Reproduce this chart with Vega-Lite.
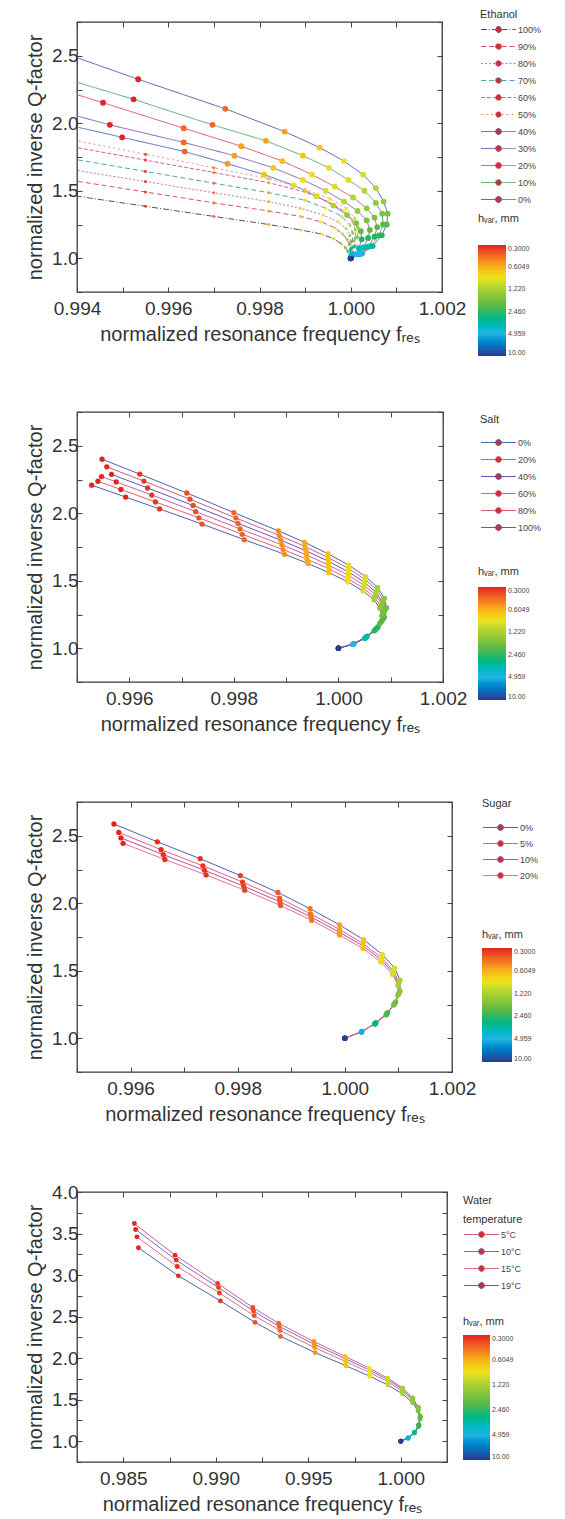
{
"$schema":"https://vega.github.io/schema/vega-lite/v6.json",
"padding":{"left":24,"top":8,"right":5,"bottom":5},
"spacing":120,
"bounds":"flush",
"resolve":{"scale":{"stroke":"independent","strokeDash":"independent","fill":"independent"}},
"config":{"font":"Liberation Sans","view":{"stroke":"#3a3a3a","strokeWidth":1.3},
"axis":{"domain":false,"grid":false,"tickSize":-5,"tickColor":"#444","labelFontSize":19,"labelColor":"#333","labelFlush":false,"labelPadding":4,"titleFontSize":20,"titleFontWeight":"normal","titleColor":"#333","titlePadding":6,"labelOverlap":false},
"axisX":{"labelPadding":12},
"legend":{"titleFontWeight":"normal","titleFontSize":11,"titleColor":"#333","labelFontSize":9,"labelColor":"#444"}},
"datasets":{
"ethanol":[
{"s":"0%","x":0.9935,"y":2.545,"h":0.25},{"s":"0%","x":0.99534,"y":2.326,"h":0.3},{"s":"0%","x":0.99725,"y":2.107,"h":0.42},{"s":"0%","x":0.99855,"y":1.938,"h":0.55},{"s":"0%","x":0.99932,"y":1.82,"h":0.68},{"s":"0%","x":0.99985,"y":1.72,"h":0.8},{"s":"0%","x":1.00027,"y":1.62,"h":0.95},{"s":"0%","x":1.00055,"y":1.52,"h":1.1},{"s":"0%","x":1.00072,"y":1.42,"h":1.3},{"s":"0%","x":1.00081,"y":1.33,"h":1.6},{"s":"0%","x":1.00079,"y":1.25,"h":2},{"s":"0%","x":1.00068,"y":1.17,"h":2.6},{"s":"0%","x":1.00048,"y":1.09,"h":3.5},{"s":"0%","x":1.00025,"y":1.035,"h":5},{"s":"0%","x":1,"y":1,"h":10},
{"s":"10%","x":0.9935,"y":2.355,"h":0.25},{"s":"10%","x":0.99524,"y":2.177,"h":0.3},{"s":"10%","x":0.99697,"y":1.988,"h":0.42},{"s":"10%","x":0.99814,"y":1.87,"h":0.55},{"s":"10%","x":0.99895,"y":1.76,"h":0.68},{"s":"10%","x":0.99952,"y":1.67,"h":0.8},{"s":"10%","x":0.99995,"y":1.58,"h":0.95},{"s":"10%","x":1.0003,"y":1.5,"h":1.1},{"s":"10%","x":1.00055,"y":1.41,"h":1.3},{"s":"10%","x":1.00069,"y":1.33,"h":1.6},{"s":"10%","x":1.00071,"y":1.25,"h":2},{"s":"10%","x":1.00062,"y":1.17,"h":2.6},{"s":"10%","x":1.00044,"y":1.09,"h":3.5},{"s":"10%","x":1.00023,"y":1.035,"h":5},{"s":"10%","x":1,"y":1,"h":10},
{"s":"20%","x":0.9935,"y":2.264,"h":0.25},{"s":"20%","x":0.99457,"y":2.152,"h":0.3},{"s":"20%","x":0.99634,"y":1.963,"h":0.42},{"s":"20%","x":0.9976,"y":1.83,"h":0.55},{"s":"20%","x":0.9985,"y":1.72,"h":0.68},{"s":"20%","x":0.99915,"y":1.62,"h":0.8},{"s":"20%","x":0.99965,"y":1.53,"h":0.95},{"s":"20%","x":1.00005,"y":1.45,"h":1.1},{"s":"20%","x":1.00035,"y":1.37,"h":1.3},{"s":"20%","x":1.00052,"y":1.3,"h":1.6},{"s":"20%","x":1.00058,"y":1.23,"h":2},{"s":"20%","x":1.00052,"y":1.16,"h":2.6},{"s":"20%","x":1.00038,"y":1.085,"h":3.5},{"s":"20%","x":1.0002,"y":1.03,"h":5},{"s":"20%","x":1,"y":1,"h":10},
{"s":"30%","x":0.9935,"y":2.1,"h":0.25},{"s":"30%","x":0.99472,"y":1.988,"h":0.3},{"s":"30%","x":0.99634,"y":1.858,"h":0.42},{"s":"30%","x":0.99745,"y":1.76,"h":0.55},{"s":"30%","x":0.9983,"y":1.67,"h":0.68},{"s":"30%","x":0.99895,"y":1.58,"h":0.8},{"s":"30%","x":0.99945,"y":1.5,"h":0.95},{"s":"30%","x":0.99985,"y":1.42,"h":1.1},{"s":"30%","x":1.00015,"y":1.35,"h":1.3},{"s":"30%","x":1.00035,"y":1.28,"h":1.6},{"s":"30%","x":1.00042,"y":1.21,"h":2},{"s":"30%","x":1.00038,"y":1.15,"h":2.6},{"s":"30%","x":1.00028,"y":1.08,"h":3.5},{"s":"30%","x":1.00014,"y":1.03,"h":5},{"s":"30%","x":1,"y":1,"h":10},
{"s":"40%","x":0.9935,"y":2.01,"h":0.25},{"s":"40%","x":0.99499,"y":1.896,"h":0.3},{"s":"40%","x":0.99636,"y":1.79,"h":0.42},{"s":"40%","x":0.9973,"y":1.7,"h":0.55},{"s":"40%","x":0.9981,"y":1.62,"h":0.68},{"s":"40%","x":0.99875,"y":1.54,"h":0.8},{"s":"40%","x":0.99925,"y":1.46,"h":0.95},{"s":"40%","x":0.99962,"y":1.39,"h":1.1},{"s":"40%","x":0.99992,"y":1.32,"h":1.3},{"s":"40%","x":1.00012,"y":1.26,"h":1.6},{"s":"40%","x":1.00022,"y":1.2,"h":2},{"s":"40%","x":1.00024,"y":1.14,"h":2.6},{"s":"40%","x":1.00018,"y":1.075,"h":3.5},{"s":"40%","x":1.0001,"y":1.03,"h":5},{"s":"40%","x":1,"y":1,"h":10},
{"s":"50%","x":0.9935,"y":1.903,"h":0.25},{"s":"50%","x":0.9955,"y":1.77,"h":0.3},{"s":"50%","x":0.997,"y":1.67,"h":0.42},{"s":"50%","x":0.9982,"y":1.59,"h":0.55},{"s":"50%","x":0.999,"y":1.51,"h":0.68},{"s":"50%","x":0.99955,"y":1.44,"h":0.8},{"s":"50%","x":0.9999,"y":1.37,"h":0.95},{"s":"50%","x":1.00008,"y":1.3,"h":1.1},{"s":"50%","x":1.00015,"y":1.23,"h":1.4},{"s":"50%","x":1.00015,"y":1.16,"h":2},{"s":"50%","x":1.0001,"y":1.09,"h":3},{"s":"50%","x":1.00005,"y":1.04,"h":4.5},{"s":"50%","x":1,"y":1,"h":10},
{"s":"60%","x":0.9935,"y":1.851,"h":0.25},{"s":"60%","x":0.9955,"y":1.727,"h":0.3},{"s":"60%","x":0.997,"y":1.635,"h":0.42},{"s":"60%","x":0.9982,"y":1.56,"h":0.55},{"s":"60%","x":0.999,"y":1.49,"h":0.68},{"s":"60%","x":0.9995,"y":1.42,"h":0.8},{"s":"60%","x":0.99985,"y":1.35,"h":0.95},{"s":"60%","x":1.00003,"y":1.28,"h":1.1},{"s":"60%","x":1.0001,"y":1.21,"h":1.4},{"s":"60%","x":1.0001,"y":1.15,"h":2},{"s":"60%","x":1.00006,"y":1.085,"h":3},{"s":"60%","x":1.00003,"y":1.04,"h":4.5},{"s":"60%","x":1,"y":1,"h":10},
{"s":"70%","x":0.9935,"y":1.759,"h":0.25},{"s":"70%","x":0.9955,"y":1.643,"h":0.3},{"s":"70%","x":0.997,"y":1.556,"h":0.42},{"s":"70%","x":0.9982,"y":1.486,"h":0.55},{"s":"70%","x":0.999,"y":1.43,"h":0.68},{"s":"70%","x":0.99945,"y":1.37,"h":0.8},{"s":"70%","x":0.9998,"y":1.31,"h":0.95},{"s":"70%","x":0.99998,"y":1.25,"h":1.1},{"s":"70%","x":1.00004,"y":1.19,"h":1.4},{"s":"70%","x":1.00004,"y":1.13,"h":2},{"s":"70%","x":1.00002,"y":1.075,"h":3},{"s":"70%","x":1,"y":1.035,"h":4.5},{"s":"70%","x":1,"y":1,"h":10},
{"s":"80%","x":0.9935,"y":1.678,"h":0.25},{"s":"80%","x":0.9955,"y":1.568,"h":0.3},{"s":"80%","x":0.997,"y":1.485,"h":0.42},{"s":"80%","x":0.9982,"y":1.42,"h":0.55},{"s":"80%","x":0.9989,"y":1.37,"h":0.68},{"s":"80%","x":0.9994,"y":1.32,"h":0.8},{"s":"80%","x":0.99972,"y":1.27,"h":0.95},{"s":"80%","x":0.9999,"y":1.22,"h":1.1},{"s":"80%","x":0.99998,"y":1.17,"h":1.4},{"s":"80%","x":1,"y":1.12,"h":2},{"s":"80%","x":1,"y":1.07,"h":3},{"s":"80%","x":1,"y":1.03,"h":4.5},{"s":"80%","x":1,"y":1,"h":10},
{"s":"90%","x":0.9935,"y":1.597,"h":0.25},{"s":"90%","x":0.9955,"y":1.491,"h":0.3},{"s":"90%","x":0.997,"y":1.41,"h":0.42},{"s":"90%","x":0.9982,"y":1.35,"h":0.55},{"s":"90%","x":0.9989,"y":1.31,"h":0.68},{"s":"90%","x":0.99935,"y":1.27,"h":0.8},{"s":"90%","x":0.99965,"y":1.225,"h":0.95},{"s":"90%","x":0.99982,"y":1.18,"h":1.1},{"s":"90%","x":0.99992,"y":1.14,"h":1.4},{"s":"90%","x":0.99997,"y":1.1,"h":2},{"s":"90%","x":0.99999,"y":1.06,"h":3},{"s":"90%","x":1,"y":1.03,"h":4.5},{"s":"90%","x":1,"y":1,"h":10},
{"s":"100%","x":0.9935,"y":1.485,"h":0.25},{"s":"100%","x":0.9955,"y":1.385,"h":0.3},{"s":"100%","x":0.997,"y":1.31,"h":0.42},{"s":"100%","x":0.9982,"y":1.25,"h":0.55},{"s":"100%","x":0.9989,"y":1.21,"h":0.68},{"s":"100%","x":0.99935,"y":1.18,"h":0.8},{"s":"100%","x":0.99962,"y":1.145,"h":0.95},{"s":"100%","x":0.99978,"y":1.11,"h":1.2},{"s":"100%","x":0.99988,"y":1.08,"h":1.6},{"s":"100%","x":0.99994,"y":1.05,"h":2.4},{"s":"100%","x":0.99998,"y":1.025,"h":4},{"s":"100%","x":1,"y":1,"h":10}
],
"salt":[
{"s":"0%","x":0.99548,"y":2.4,"h":0.3},{"s":"0%","x":0.9962,"y":2.29,"h":0.32},{"s":"0%","x":0.9971,"y":2.15,"h":0.36},{"s":"0%","x":0.998,"y":2.005,"h":0.41},{"s":"0%","x":0.99885,"y":1.87,"h":0.5},{"s":"0%","x":0.99935,"y":1.785,"h":0.58},{"s":"0%","x":0.9998,"y":1.7,"h":0.68},{"s":"0%","x":1.0002,"y":1.615,"h":0.8},{"s":"0%","x":1.00052,"y":1.53,"h":0.95},{"s":"0%","x":1.00075,"y":1.45,"h":1.15},{"s":"0%","x":1.00088,"y":1.37,"h":1.4},{"s":"0%","x":1.00092,"y":1.3,"h":1.7},{"s":"0%","x":1.00088,"y":1.23,"h":2.1},{"s":"0%","x":1.00076,"y":1.16,"h":2.6},{"s":"0%","x":1.00055,"y":1.09,"h":3.4},{"s":"0%","x":1.0003,"y":1.035,"h":5},{"s":"0%","x":1,"y":1,"h":10},
{"s":"20%","x":0.99557,"y":2.344,"h":0.3},{"s":"20%","x":0.99628,"y":2.238,"h":0.32},{"s":"20%","x":0.99716,"y":2.104,"h":0.36},{"s":"20%","x":0.99804,"y":1.965,"h":0.41},{"s":"20%","x":0.99887,"y":1.835,"h":0.5},{"s":"20%","x":0.99936,"y":1.754,"h":0.58},{"s":"20%","x":0.9998,"y":1.672,"h":0.68},{"s":"20%","x":1.0002,"y":1.59,"h":0.8},{"s":"20%","x":1.00051,"y":1.509,"h":0.95},{"s":"20%","x":1.00074,"y":1.432,"h":1.15},{"s":"20%","x":1.00086,"y":1.355,"h":1.4},{"s":"20%","x":1.0009,"y":1.288,"h":1.7},{"s":"20%","x":1.00086,"y":1.221,"h":2.1},{"s":"20%","x":1.00075,"y":1.154,"h":2.6},{"s":"20%","x":1.00054,"y":1.086,"h":3.4},{"s":"20%","x":1.00029,"y":1.034,"h":5},{"s":"20%","x":1,"y":1,"h":10},
{"s":"40%","x":0.99566,"y":2.288,"h":0.3},{"s":"40%","x":0.99635,"y":2.187,"h":0.32},{"s":"40%","x":0.99722,"y":2.058,"h":0.36},{"s":"40%","x":0.99808,"y":1.925,"h":0.41},{"s":"40%","x":0.9989,"y":1.8,"h":0.5},{"s":"40%","x":0.99938,"y":1.722,"h":0.58},{"s":"40%","x":0.99981,"y":1.644,"h":0.68},{"s":"40%","x":1.00019,"y":1.566,"h":0.8},{"s":"40%","x":1.0005,"y":1.488,"h":0.95},{"s":"40%","x":1.00072,"y":1.414,"h":1.15},{"s":"40%","x":1.00084,"y":1.34,"h":1.4},{"s":"40%","x":1.00088,"y":1.276,"h":1.7},{"s":"40%","x":1.00084,"y":1.212,"h":2.1},{"s":"40%","x":1.00073,"y":1.147,"h":2.6},{"s":"40%","x":1.00053,"y":1.083,"h":3.4},{"s":"40%","x":1.00029,"y":1.032,"h":5},{"s":"40%","x":1,"y":1,"h":10},
{"s":"60%","x":0.99547,"y":2.272,"h":0.28},{"s":"60%","x":0.99575,"y":2.232,"h":0.3},{"s":"60%","x":0.99643,"y":2.135,"h":0.32},{"s":"60%","x":0.99727,"y":2.012,"h":0.36},{"s":"60%","x":0.99812,"y":1.884,"h":0.41},{"s":"60%","x":0.99892,"y":1.766,"h":0.5},{"s":"60%","x":0.99939,"y":1.691,"h":0.58},{"s":"60%","x":0.99981,"y":1.616,"h":0.68},{"s":"60%","x":1.00019,"y":1.541,"h":0.8},{"s":"60%","x":1.00049,"y":1.466,"h":0.95},{"s":"60%","x":1.00071,"y":1.396,"h":1.15},{"s":"60%","x":1.00083,"y":1.326,"h":1.4},{"s":"60%","x":1.00087,"y":1.264,"h":1.7},{"s":"60%","x":1.00083,"y":1.202,"h":2.1},{"s":"60%","x":1.00071,"y":1.141,"h":2.6},{"s":"60%","x":1.00052,"y":1.079,"h":3.4},{"s":"60%","x":1.00028,"y":1.031,"h":5},{"s":"60%","x":1,"y":1,"h":10},
{"s":"80%","x":0.9954,"y":2.237,"h":0.28},{"s":"80%","x":0.99584,"y":2.176,"h":0.3},{"s":"80%","x":0.9965,"y":2.084,"h":0.32},{"s":"80%","x":0.99733,"y":1.966,"h":0.36},{"s":"80%","x":0.99816,"y":1.844,"h":0.41},{"s":"80%","x":0.99894,"y":1.731,"h":0.5},{"s":"80%","x":0.9994,"y":1.659,"h":0.58},{"s":"80%","x":0.99982,"y":1.588,"h":0.68},{"s":"80%","x":1.00018,"y":1.517,"h":0.8},{"s":"80%","x":1.00048,"y":1.445,"h":0.95},{"s":"80%","x":1.00069,"y":1.378,"h":1.15},{"s":"80%","x":1.00081,"y":1.311,"h":1.4},{"s":"80%","x":1.00085,"y":1.252,"h":1.7},{"s":"80%","x":1.00081,"y":1.193,"h":2.1},{"s":"80%","x":1.0007,"y":1.134,"h":2.6},{"s":"80%","x":1.00051,"y":1.076,"h":3.4},{"s":"80%","x":1.00028,"y":1.029,"h":5},{"s":"80%","x":1,"y":1,"h":10},
{"s":"100%","x":0.99528,"y":2.208,"h":0.28},{"s":"100%","x":0.99593,"y":2.12,"h":0.3},{"s":"100%","x":0.99658,"y":2.032,"h":0.32},{"s":"100%","x":0.99739,"y":1.92,"h":0.36},{"s":"100%","x":0.9982,"y":1.804,"h":0.41},{"s":"100%","x":0.99897,"y":1.696,"h":0.5},{"s":"100%","x":0.99942,"y":1.628,"h":0.58},{"s":"100%","x":0.99982,"y":1.56,"h":0.68},{"s":"100%","x":1.00018,"y":1.492,"h":0.8},{"s":"100%","x":1.00047,"y":1.424,"h":0.95},{"s":"100%","x":1.00068,"y":1.36,"h":1.15},{"s":"100%","x":1.00079,"y":1.296,"h":1.4},{"s":"100%","x":1.00083,"y":1.24,"h":1.7},{"s":"100%","x":1.00079,"y":1.184,"h":2.1},{"s":"100%","x":1.00068,"y":1.128,"h":2.6},{"s":"100%","x":1.0005,"y":1.072,"h":3.4},{"s":"100%","x":1.00027,"y":1.028,"h":5},{"s":"100%","x":1,"y":1,"h":10}
],
"sugar":[
{"s":"0%","x":0.99569,"y":2.587,"h":0.3},{"s":"0%","x":0.9965,"y":2.455,"h":0.31},{"s":"0%","x":0.9973,"y":2.33,"h":0.32},{"s":"0%","x":0.99805,"y":2.205,"h":0.34},{"s":"0%","x":0.99875,"y":2.08,"h":0.38},{"s":"0%","x":0.99935,"y":1.96,"h":0.45},{"s":"0%","x":0.9999,"y":1.84,"h":0.55},{"s":"0%","x":1.00035,"y":1.73,"h":0.68},{"s":"0%","x":1.0007,"y":1.62,"h":0.8},{"s":"0%","x":1.00093,"y":1.52,"h":0.95},{"s":"0%","x":1.00103,"y":1.43,"h":1.15},{"s":"0%","x":1.00103,"y":1.35,"h":1.4},{"s":"0%","x":1.00095,"y":1.27,"h":1.75},{"s":"0%","x":1.0008,"y":1.19,"h":2.2},{"s":"0%","x":1.00058,"y":1.115,"h":2.9},{"s":"0%","x":1.00032,"y":1.05,"h":4.2},{"s":"0%","x":1,"y":1,"h":10},
{"s":"5%","x":0.99578,"y":2.524,"h":0.3},{"s":"5%","x":0.99657,"y":2.397,"h":0.31},{"s":"5%","x":0.99735,"y":2.277,"h":0.32},{"s":"5%","x":0.99809,"y":2.157,"h":0.34},{"s":"5%","x":0.99878,"y":2.037,"h":0.38},{"s":"5%","x":0.99936,"y":1.922,"h":0.45},{"s":"5%","x":0.9999,"y":1.806,"h":0.55},{"s":"5%","x":1.00034,"y":1.701,"h":0.68},{"s":"5%","x":1.00069,"y":1.595,"h":0.8},{"s":"5%","x":1.00091,"y":1.499,"h":0.95},{"s":"5%","x":1.00101,"y":1.413,"h":1.15},{"s":"5%","x":1.00101,"y":1.336,"h":1.4},{"s":"5%","x":1.00093,"y":1.259,"h":1.75},{"s":"5%","x":1.00078,"y":1.182,"h":2.2},{"s":"5%","x":1.00057,"y":1.11,"h":2.9},{"s":"5%","x":1.00031,"y":1.048,"h":4.2},{"s":"5%","x":1,"y":1,"h":10},
{"s":"10%","x":0.99582,"y":2.484,"h":0.3},{"s":"10%","x":0.99661,"y":2.36,"h":0.31},{"s":"10%","x":0.99738,"y":2.244,"h":0.32},{"s":"10%","x":0.99811,"y":2.127,"h":0.34},{"s":"10%","x":0.99879,"y":2.01,"h":0.38},{"s":"10%","x":0.99937,"y":1.898,"h":0.45},{"s":"10%","x":0.9999,"y":1.785,"h":0.55},{"s":"10%","x":1.00034,"y":1.683,"h":0.68},{"s":"10%","x":1.00068,"y":1.58,"h":0.8},{"s":"10%","x":1.0009,"y":1.486,"h":0.95},{"s":"10%","x":1.001,"y":1.402,"h":1.15},{"s":"10%","x":1.001,"y":1.327,"h":1.4},{"s":"10%","x":1.00092,"y":1.252,"h":1.75},{"s":"10%","x":1.00078,"y":1.178,"h":2.2},{"s":"10%","x":1.00056,"y":1.108,"h":2.9},{"s":"10%","x":1.00031,"y":1.047,"h":4.2},{"s":"10%","x":1,"y":1,"h":10},
{"s":"20%","x":0.99586,"y":2.444,"h":0.3},{"s":"20%","x":0.99664,"y":2.324,"h":0.31},{"s":"20%","x":0.99741,"y":2.21,"h":0.32},{"s":"20%","x":0.99813,"y":2.097,"h":0.34},{"s":"20%","x":0.9988,"y":1.983,"h":0.38},{"s":"20%","x":0.99938,"y":1.874,"h":0.45},{"s":"20%","x":0.9999,"y":1.764,"h":0.55},{"s":"20%","x":1.00034,"y":1.664,"h":0.68},{"s":"20%","x":1.00067,"y":1.564,"h":0.8},{"s":"20%","x":1.00089,"y":1.473,"h":0.95},{"s":"20%","x":1.00099,"y":1.391,"h":1.15},{"s":"20%","x":1.00099,"y":1.319,"h":1.4},{"s":"20%","x":1.00091,"y":1.246,"h":1.75},{"s":"20%","x":1.00077,"y":1.173,"h":2.2},{"s":"20%","x":1.00056,"y":1.105,"h":2.9},{"s":"20%","x":1.00031,"y":1.046,"h":4.2},{"s":"20%","x":1,"y":1,"h":10}
],
"water":[
{"s":"5°C","x":0.9856,"y":3.62,"h":0.3},{"s":"5°C","x":0.9878,"y":3.24,"h":0.31},{"s":"5°C","x":0.9901,"y":2.9,"h":0.33},{"s":"5°C","x":0.992,"y":2.61,"h":0.36},{"s":"5°C","x":0.9934,"y":2.42,"h":0.42},{"s":"5°C","x":0.9953,"y":2.2,"h":0.52},{"s":"5°C","x":0.997,"y":2.02,"h":0.68},{"s":"5°C","x":0.9983,"y":1.88,"h":0.85},{"s":"5°C","x":0.9993,"y":1.76,"h":1},{"s":"5°C","x":1.0001,"y":1.64,"h":1.15},{"s":"5°C","x":1.00065,"y":1.52,"h":1.35},{"s":"5°C","x":1.00095,"y":1.41,"h":1.6},{"s":"5°C","x":1.00106,"y":1.3,"h":2},{"s":"5°C","x":1.00098,"y":1.2,"h":2.5},{"s":"5°C","x":1.00075,"y":1.11,"h":3.2},{"s":"5°C","x":1.0004,"y":1.04,"h":4.5},{"s":"5°C","x":1,"y":1,"h":10},
{"s":"10°C","x":0.98567,"y":3.549,"h":0.3},{"s":"10°C","x":0.98786,"y":3.18,"h":0.31},{"s":"10°C","x":0.99015,"y":2.849,"h":0.33},{"s":"10°C","x":0.99204,"y":2.567,"h":0.36},{"s":"10°C","x":0.99343,"y":2.382,"h":0.42},{"s":"10°C","x":0.99532,"y":2.168,"h":0.52},{"s":"10°C","x":0.99702,"y":1.992,"h":0.68},{"s":"10°C","x":0.99831,"y":1.856,"h":0.85},{"s":"10°C","x":0.9993,"y":1.739,"h":1},{"s":"10°C","x":1.0001,"y":1.623,"h":1.15},{"s":"10°C","x":1.00065,"y":1.506,"h":1.35},{"s":"10°C","x":1.00095,"y":1.399,"h":1.6},{"s":"10°C","x":1.00105,"y":1.292,"h":2},{"s":"10°C","x":1.00097,"y":1.195,"h":2.5},{"s":"10°C","x":1.00075,"y":1.107,"h":3.2},{"s":"10°C","x":1.0004,"y":1.039,"h":4.5},{"s":"10°C","x":1,"y":1,"h":10},
{"s":"15°C","x":0.98574,"y":3.46,"h":0.3},{"s":"15°C","x":0.98792,"y":3.103,"h":0.31},{"s":"15°C","x":0.9902,"y":2.784,"h":0.33},{"s":"15°C","x":0.99208,"y":2.512,"h":0.36},{"s":"15°C","x":0.99347,"y":2.333,"h":0.42},{"s":"15°C","x":0.99535,"y":2.127,"h":0.52},{"s":"15°C","x":0.99703,"y":1.958,"h":0.68},{"s":"15°C","x":0.99832,"y":1.826,"h":0.85},{"s":"15°C","x":0.99931,"y":1.714,"h":1},{"s":"15°C","x":1.0001,"y":1.601,"h":1.15},{"s":"15°C","x":1.00064,"y":1.488,"h":1.35},{"s":"15°C","x":1.00094,"y":1.385,"h":1.6},{"s":"15°C","x":1.00105,"y":1.282,"h":2},{"s":"15°C","x":1.00097,"y":1.188,"h":2.5},{"s":"15°C","x":1.00074,"y":1.103,"h":3.2},{"s":"15°C","x":1.0004,"y":1.038,"h":4.5},{"s":"15°C","x":1,"y":1,"h":10},
{"s":"19°C","x":0.98582,"y":3.329,"h":0.3},{"s":"19°C","x":0.98798,"y":2.991,"h":0.31},{"s":"19°C","x":0.99025,"y":2.689,"h":0.33},{"s":"19°C","x":0.99212,"y":2.431,"h":0.36},{"s":"19°C","x":0.9935,"y":2.262,"h":0.42},{"s":"19°C","x":0.99537,"y":2.067,"h":0.52},{"s":"19°C","x":0.99705,"y":1.907,"h":0.68},{"s":"19°C","x":0.99833,"y":1.782,"h":0.85},{"s":"19°C","x":0.99931,"y":1.676,"h":1},{"s":"19°C","x":1.0001,"y":1.569,"h":1.15},{"s":"19°C","x":1.00064,"y":1.462,"h":1.35},{"s":"19°C","x":1.00094,"y":1.364,"h":1.6},{"s":"19°C","x":1.00104,"y":1.267,"h":2},{"s":"19°C","x":1.00097,"y":1.178,"h":2.5},{"s":"19°C","x":1.00074,"y":1.098,"h":3.2},{"s":"19°C","x":1.00039,"y":1.036,"h":4.5},{"s":"19°C","x":1,"y":1,"h":10}
]
},
"vconcat":[
{"width":365,"height":270,"data":{"name":"ethanol"},
"resolve":{"axis":{"x":"independent","y":"independent"}},
"layer":[
{"mark":{"type":"line","strokeWidth":1,"clip":true},
"encoding":{
"x":{"field":"x","type":"quantitative","scale":{"domain":[0.994,1.002],"zero":false,"nice":false},"axis":{"orient":"bottom","values":[0.994,0.995,0.996,0.997,0.998,0.999,1,1.001,1.002],"labelExpr":"round(datum.value*1000) % 2 == 0 ? format(datum.value, '.3f') : ''","title":"normalized resonance frequency fᵣₑₛ"}},
"y":{"field":"y","type":"quantitative","scale":{"domain":[0.75,2.75],"zero":false,"nice":false},"axis":{"orient":"left","values":[0.75,1,1.25,1.5,1.75,2,2.25,2.5,2.75],"labelExpr":"round(datum.value*4) % 2 == 0 ? format(datum.value, '.1f') : ''","title":"normalized inverse Q-factor"}},
"stroke":{"field":"s","type":"nominal","scale":{"domain":["100%","90%","80%","70%","60%","50%","40%","30%","20%","10%","0%"],"range":["#505068","#e05060","#d070b0","#50a8a8","#e06080","#e89a70","#4f6fc0","#8a5fb8","#e0506e","#5aab6a","#4a63a8"]},
"legend":{"title":"Ethanol","orient":"none","legendX":403,"legendY":-13,"rowPadding":6,"symbolType":"M-5.8,0L-1,0M1,0L5.8,0M1,0A1,1,0,1,1,-1,0A1,1,0,1,1,1,0Z","symbolSize":36,"symbolOffset":14,"labelOffset":15,"symbolStrokeWidth":1,"encode":{"symbols":{"update":{"fill":{"value":"#c8303c"}}}}}},
"strokeDash":{"field":"s","type":"nominal","scale":{"domain":["100%","90%","80%","70%","60%","50%","40%","30%","20%","10%","0%"],"range":[[6,2,1,2],[5,3],[2,2],[5,3],[4,2],[2,3],[1,0],[1,0],[1,0],[1,0],[1,0]]}},
"order":{"field":"h","type":"quantitative"}}},
{"transform":[{"filter":{"field":"s","oneOf":["0%","10%","20%","30%","40%"]}}],
"mark":{"type":"point","filled":true,"clip":true,"size":34,"shape":"circle","opacity":1},
"encoding":{
"x":{"field":"x","type":"quantitative","scale":{"domain":[0.994,1.002],"zero":false,"nice":false},"axis":{"orient":"top","labels":false,"title":null,"values":[0.994,0.995,0.996,0.997,0.998,0.999,1,1.001,1.002]}},
"y":{"field":"y","type":"quantitative","scale":{"domain":[0.75,2.75],"zero":false,"nice":false},"axis":{"orient":"right","labels":false,"title":null,"values":[0.75,1,1.25,1.5,1.75,2,2.25,2.5,2.75]}},
"fill":{"field":"h","type":"quantitative","scale":{"type":"log","clamp":true,"domain":[10,4.959,2.46,1.22,0.86,0.6049,0.43,0.3],"range":["#2b3990","#27b4e4","#43b14a","#9ccb3b","#efe51d","#f7b41c","#f26a26","#e42320"]},
"legend":{"type":"gradient","title":"hᵥₐᵣ, mm","orient":"none","legendX":401,"legendY":191,"direction":"vertical","gradientLength":111,"gradientThickness":28,"values":[0.3,0.6049,1.22,2.46,4.959,10],"format":".4r","labelFontSize":7,"labelOverlap":false,"titlePadding":21,"gradientStrokeWidth":0}}}},
{"transform":[{"filter":{"field":"s","oneOf":["50%","60%","70%","80%","90%","100%"]}}],
"mark":{"type":"point","filled":true,"clip":true,"size":10,"shape":"circle","opacity":0.8},
"encoding":{
"x":{"field":"x","type":"quantitative","axis":null},
"y":{"field":"y","type":"quantitative","axis":null},
"fill":{"field":"h","type":"quantitative"}}}
]},
{"width":366,"height":270,"data":{"name":"salt"},
"resolve":{"axis":{"x":"independent","y":"independent"}},
"layer":[
{"mark":{"type":"line","strokeWidth":1,"clip":true},
"encoding":{
"x":{"field":"x","type":"quantitative","scale":{"domain":[0.995,1.002],"zero":false,"nice":false},"axis":{"orient":"bottom","values":[0.995,0.996,0.997,0.998,0.999,1,1.001,1.002],"labelExpr":"round(datum.value*1000) % 2 == 0 ? format(datum.value, '.3f') : ''","title":"normalized resonance frequency fᵣₑₛ"}},
"y":{"field":"y","type":"quantitative","scale":{"domain":[0.75,2.75],"zero":false,"nice":false},"axis":{"orient":"left","values":[0.75,1,1.25,1.5,1.75,2,2.25,2.5,2.75],"labelExpr":"round(datum.value*4) % 2 == 0 ? format(datum.value, '.1f') : ''","title":"normalized inverse Q-factor"}},
"stroke":{"field":"s","type":"nominal","scale":{"domain":["0%","20%","40%","60%","80%","100%"],"range":["#4a64b0","#d8587e","#5a5ac0","#d0609a","#e06070","#4a64b0"]},
"legend":{"title":"Salt","orient":"none","legendX":403,"legendY":2,"titlePadding":13,"rowPadding":6,"symbolType":"M-5.8,0L-1,0M1,0L5.8,0M1,0A1,1,0,1,1,-1,0A1,1,0,1,1,1,0Z","symbolSize":36,"symbolOffset":14,"labelOffset":15,"symbolStrokeWidth":1,"encode":{"symbols":{"update":{"fill":{"value":"#c8303c"}}}}}},
"order":{"field":"h","type":"quantitative"}}},
{"mark":{"type":"point","filled":true,"clip":true,"opacity":1,"size":28,"shape":"circle"},
"encoding":{
"x":{"field":"x","type":"quantitative","scale":{"domain":[0.995,1.002],"zero":false,"nice":false},"axis":{"orient":"top","labels":false,"title":null,"values":[0.995,0.996,0.997,0.998,0.999,1,1.001,1.002]}},
"y":{"field":"y","type":"quantitative","scale":{"domain":[0.75,2.75],"zero":false,"nice":false},"axis":{"orient":"right","labels":false,"title":null,"values":[0.75,1,1.25,1.5,1.75,2,2.25,2.5,2.75]}},
"fill":{"field":"h","type":"quantitative","scale":{"type":"log","clamp":true,"domain":[10,4.959,2.46,1.22,0.86,0.6049,0.43,0.3],"range":["#2b3990","#27b4e4","#43b14a","#9ccb3b","#efe51d","#f7b41c","#f26a26","#e42320"]},
"legend":{"type":"gradient","title":"hᵥₐᵣ, mm","orient":"none","legendX":401,"legendY":154,"direction":"vertical","gradientLength":113,"gradientThickness":28,"values":[0.3,0.6049,1.22,2.46,4.959,10],"format":".4r","labelFontSize":7,"labelOverlap":false,"titlePadding":10,"gradientStrokeWidth":0}}}}
]},
{"width":375,"height":270,"data":{"name":"sugar"},
"resolve":{"axis":{"x":"independent","y":"independent"}},
"layer":[
{"mark":{"type":"line","strokeWidth":1,"clip":true},
"encoding":{
"x":{"field":"x","type":"quantitative","scale":{"domain":[0.995,1.002],"zero":false,"nice":false},"axis":{"orient":"bottom","values":[0.995,0.996,0.997,0.998,0.999,1,1.001,1.002],"labelExpr":"round(datum.value*1000) % 2 == 0 ? format(datum.value, '.3f') : ''","title":"normalized resonance frequency fᵣₑₛ"}},
"y":{"field":"y","type":"quantitative","scale":{"domain":[0.75,2.75],"zero":false,"nice":false},"axis":{"orient":"left","values":[0.75,1,1.25,1.5,1.75,2,2.25,2.5,2.75],"labelExpr":"round(datum.value*4) % 2 == 0 ? format(datum.value, '.1f') : ''","title":"normalized inverse Q-factor"}},
"stroke":{"field":"s","type":"nominal","scale":{"domain":["0%","5%","10%","20%"],"range":["#4a64b0","#e0607e","#b050a0","#e87090"]},
"legend":{"title":"Sugar","orient":"none","legendX":405,"legendY":-4,"titlePadding":14,"rowPadding":5,"symbolType":"M-5.8,0L-1,0M1,0L5.8,0M1,0A1,1,0,1,1,-1,0A1,1,0,1,1,1,0Z","symbolSize":36,"symbolOffset":14,"labelOffset":15,"symbolStrokeWidth":1,"encode":{"symbols":{"update":{"fill":{"value":"#c8303c"}}}}}},
"order":{"field":"h","type":"quantitative"}}},
{"mark":{"type":"point","filled":true,"clip":true,"opacity":1,"size":28,"shape":"circle"},
"encoding":{
"x":{"field":"x","type":"quantitative","scale":{"domain":[0.995,1.002],"zero":false,"nice":false},"axis":{"orient":"top","labels":false,"title":null,"values":[0.995,0.996,0.997,0.998,0.999,1,1.001,1.002]}},
"y":{"field":"y","type":"quantitative","scale":{"domain":[0.75,2.75],"zero":false,"nice":false},"axis":{"orient":"right","labels":false,"title":null,"values":[0.75,1,1.25,1.5,1.75,2,2.25,2.5,2.75]}},
"fill":{"field":"h","type":"quantitative","scale":{"type":"log","clamp":true,"domain":[10,4.959,2.46,1.22,0.86,0.6049,0.43,0.3],"range":["#2b3990","#27b4e4","#43b14a","#9ccb3b","#efe51d","#f7b41c","#f26a26","#e42320"]},
"legend":{"type":"gradient","title":"hᵥₐᵣ, mm","orient":"none","legendX":405,"legendY":127,"direction":"vertical","gradientLength":114,"gradientThickness":30,"values":[0.3,0.6049,1.22,2.46,4.959,10],"format":".4r","labelFontSize":7,"labelOverlap":false,"titlePadding":8,"gradientStrokeWidth":0}}}}
]},
{"width":370,"height":270,"data":{"name":"water"},
"resolve":{"axis":{"x":"independent","y":"independent"}},
"layer":[
{"mark":{"type":"line","strokeWidth":1,"clip":true},
"encoding":{
"x":{"field":"x","type":"quantitative","scale":{"domain":[0.9825,1.0025],"zero":false,"nice":false},"axis":{"orient":"bottom","values":[0.9825,0.985,0.9875,0.99,0.9925,0.995,0.9975,1,1.0025],"labelExpr":"round(datum.value*400) % 2 == 0 ? format(datum.value, '.3f') : ''","title":"normalized resonance frequency fᵣₑₛ"}},
"y":{"field":"y","type":"quantitative","scale":{"domain":[0.75,4],"zero":false,"nice":false},"axis":{"orient":"left","values":[0.75,1,1.25,1.5,1.75,2,2.25,2.5,2.75,3,3.25,3.5,3.75,4],"labelExpr":"round(datum.value*4) % 2 == 0 ? format(datum.value, '.1f') : ''","title":"normalized inverse Q-factor"}},
"stroke":{"field":"s","type":"nominal","scale":{"domain":["5°C","10°C","15°C","19°C"],"range":["#d06090","#7a6cc0","#e07080","#4a64b0"]},
"legend":{"title":["Water","temperature"],"titleLineHeight":19,"orient":"none","legendX":386,"legendY":3,"rowPadding":6,"symbolType":"M-5.8,0L-1,0M1,0L5.8,0M1,0A1,1,0,1,1,-1,0A1,1,0,1,1,1,0Z","symbolSize":36,"symbolOffset":14,"labelOffset":15,"symbolStrokeWidth":1,"encode":{"symbols":{"update":{"fill":{"value":"#c8303c"}}}}}},
"order":{"field":"h","type":"quantitative"}}},
{"mark":{"type":"point","filled":true,"clip":true,"opacity":1,"size":24,"shape":"circle"},
"encoding":{
"x":{"field":"x","type":"quantitative","scale":{"domain":[0.9825,1.0025],"zero":false,"nice":false},"axis":{"orient":"top","labels":false,"title":null,"values":[0.9825,0.985,0.9875,0.99,0.9925,0.995,0.9975,1,1.0025]}},
"y":{"field":"y","type":"quantitative","scale":{"domain":[0.75,4],"zero":false,"nice":false},"axis":{"orient":"right","labels":false,"title":null,"values":[0.75,1,1.25,1.5,1.75,2,2.25,2.5,2.75,3,3.25,3.5,3.75,4]}},
"fill":{"field":"h","type":"quantitative","scale":{"type":"log","clamp":true,"domain":[10,4.959,2.46,1.22,0.86,0.6049,0.43,0.3],"range":["#2b3990","#27b4e4","#43b14a","#9ccb3b","#efe51d","#f7b41c","#f26a26","#e42320"]},
"legend":{"type":"gradient","title":"hᵥₐᵣ, mm","orient":"none","legendX":386,"legendY":124,"direction":"vertical","gradientLength":125,"gradientThickness":27,"values":[0.3,0.6049,1.22,2.46,4.959,10],"format":".4r","labelFontSize":7,"labelOverlap":false,"titlePadding":8,"gradientStrokeWidth":0}}}}
]}
]
}
